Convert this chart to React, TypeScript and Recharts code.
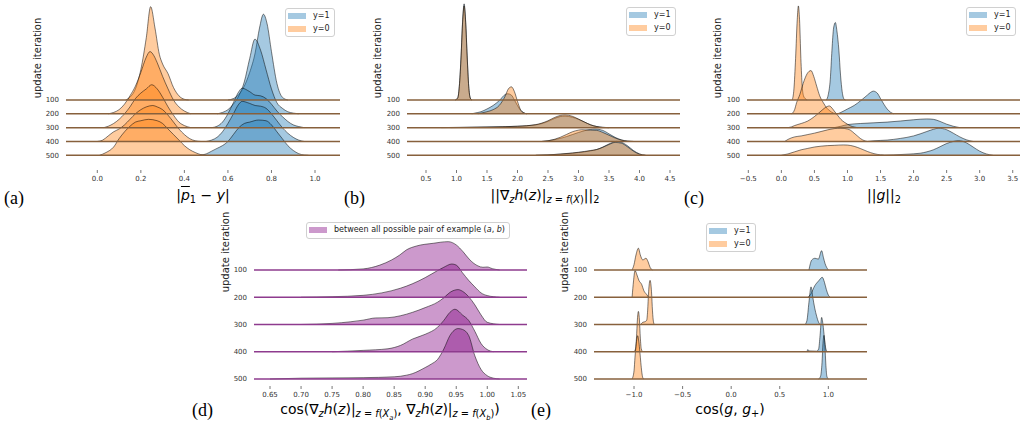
import React from 'react';
import { ComposedChart, Area, XAxis, YAxis, ReferenceLine } from 'recharts';

type Pt = [number, number];

const rowLabels = ['100', '200', '300', '400', '500'];

// ---------- panel (a): |p1 - y| ----------
const aTicks = [0.0, 0.2, 0.4, 0.6, 0.8, 1.0];
const aBlue100: Pt[] = [[0.6,0],[0.625,0.1],[0.65,0.4],[0.675,1.0],[0.7,2.0],[0.725,3.4],[0.745,5.2],[0.763,6.2],[0.78,5.5],[0.8,3.5],[0.825,1.2],[0.85,0.2],[0.875,0]];
const aBlue200: Pt[] = [[0.55,0],[0.575,0.1],[0.6,0.3],[0.625,0.7],[0.65,1.3],[0.675,2.3],[0.7,4.0],[0.724,5.4],[0.75,4.6],[0.775,3.2],[0.8,1.8],[0.825,0.8],[0.85,0.4],[0.875,0.15],[0.9,0.05],[0.925,0]];
const aBlue300: Pt[] = [[0.525,0],[0.55,0.1],[0.575,0.4],[0.6,1.0],[0.625,1.8],[0.65,2.6],[0.665,2.85],[0.7,2.6],[0.725,2.35],[0.75,2.3],[0.775,2.1],[0.8,1.7],[0.825,1.2],[0.85,0.8],[0.875,0.45],[0.9,0.2],[0.925,0.08],[0.95,0]];
const aBlue400: Pt[] = [[0.5,0],[0.525,0.1],[0.55,0.3],[0.575,0.7],[0.6,1.3],[0.625,2.0],[0.65,2.7],[0.665,2.9],[0.7,2.75],[0.725,2.6],[0.75,2.55],[0.775,2.4],[0.8,2.0],[0.825,1.5],[0.85,1.0],[0.875,0.6],[0.9,0.3],[0.925,0.1],[0.95,0]];
const aBlue500: Pt[] = [[0.47,0],[0.5,0.1],[0.525,0.3],[0.55,0.5],[0.575,0.7],[0.6,1.0],[0.625,1.5],[0.65,2.0],[0.675,2.3],[0.7,2.4],[0.74,2.55],[0.775,2.5],[0.8,2.2],[0.825,1.7],[0.85,1.2],[0.875,0.7],[0.9,0.35],[0.925,0.12],[0.95,0.02],[0.97,0]];
const aOrange100: Pt[] = [[0.13,0],[0.15,0.2],[0.175,0.8],[0.2,2.2],[0.225,4.5],[0.245,6.75],[0.265,5.2],[0.285,3.3],[0.3,2.6],[0.325,1.9],[0.35,0.9],[0.375,0.3],[0.4,0.05],[0.42,0]];
const aOrange200: Pt[] = [[0.05,0],[0.075,0.1],[0.1,0.3],[0.125,0.7],[0.15,1.3],[0.175,2.0],[0.2,3.0],[0.225,4.1],[0.242,4.5],[0.26,4.2],[0.275,3.7],[0.3,2.7],[0.325,1.8],[0.35,1.0],[0.375,0.5],[0.4,0.2],[0.43,0]];
const aOrange300: Pt[] = [[0.03,0],[0.05,0.1],[0.075,0.3],[0.1,0.6],[0.125,1.0],[0.15,1.5],[0.175,2.1],[0.2,2.5],[0.225,2.8],[0.25,3.1],[0.275,2.8],[0.3,2.2],[0.325,1.5],[0.35,0.9],[0.375,0.4],[0.4,0.15],[0.43,0]];
const aOrange400: Pt[] = [[0.0,0],[0.025,0.1],[0.05,0.4],[0.075,0.7],[0.1,0.9],[0.125,1.2],[0.15,1.6],[0.175,2.0],[0.2,2.3],[0.225,2.5],[0.255,2.6],[0.275,2.5],[0.3,2.3],[0.325,1.9],[0.35,1.4],[0.375,0.9],[0.4,0.5],[0.425,0.2],[0.45,0.05],[0.475,0]];
const aOrange500: Pt[] = [[0.01,0],[0.04,0.2],[0.075,0.6],[0.1,1.2],[0.125,1.7],[0.15,2.1],[0.175,2.4],[0.2,2.5],[0.235,2.6],[0.275,2.5],[0.3,2.3],[0.325,1.9],[0.35,1.5],[0.375,1.1],[0.4,0.7],[0.425,0.4],[0.45,0.2],[0.475,0.05],[0.5,0]];

// ---------- panel (b): ||grad h|| ----------
const bTicks = [0.5, 1.0, 1.5, 2.0, 2.5, 3.0, 3.5, 4.0, 4.5];
const bBlue100: Pt[] = [[0.98,0],[1.02,0.15],[1.05,1.2],[1.075,3.2],[1.1,5.7],[1.125,6.95],[1.15,5.7],[1.175,3.2],[1.2,1.0],[1.225,0.15],[1.25,0]];
const bBlue200: Pt[] = [[1.25,0],[1.3,0.05],[1.4,0.15],[1.5,0.35],[1.6,0.6],[1.7,0.95],[1.8,1.4],[1.84,1.45],[1.9,1.35],[1.95,1.0],[2.0,0.6],[2.05,0.25],[2.1,0.08],[2.15,0]];
const bBlue300: Pt[] = [[0.75,0],[1.0,0.02],[1.5,0.05],[2.0,0.1],[2.3,0.2],[2.5,0.45],[2.6,0.65],[2.7,0.8],[2.78,0.83],[2.9,0.75],[3.0,0.6],[3.1,0.4],[3.2,0.2],[3.3,0.08],[3.4,0.02],[3.5,0]];
const bBlue400: Pt[] = [[2.4,0],[2.5,0.05],[2.6,0.12],[2.7,0.22],[2.8,0.35],[2.9,0.5],[3.0,0.65],[3.1,0.78],[3.2,0.87],[3.27,0.9],[3.4,0.8],[3.5,0.55],[3.6,0.3],[3.7,0.12],[3.8,0.03],[3.9,0]];
const bBlue500: Pt[] = [[2.3,0],[2.5,0.03],[2.7,0.08],[2.9,0.15],[3.0,0.2],[3.1,0.25],[3.2,0.32],[3.3,0.42],[3.4,0.6],[3.5,0.82],[3.62,1.0],[3.7,0.95],[3.8,0.7],[3.9,0.35],[4.0,0.1],[4.1,0]];
const bOrange100: Pt[] = [[0.98,0],[1.02,0.15],[1.05,1.2],[1.075,3.1],[1.1,5.6],[1.125,6.8],[1.15,5.6],[1.175,3.1],[1.2,1.0],[1.225,0.15],[1.25,0]];
const bOrange200: Pt[] = [[1.35,0],[1.4,0.05],[1.5,0.15],[1.6,0.3],[1.7,0.6],[1.8,1.3],[1.85,1.8],[1.9,1.95],[1.95,1.6],[2.0,0.9],[2.05,0.3],[2.1,0.08],[2.15,0]];
const bOrange300: Pt[] = [[0.9,0],[1.2,0.02],[1.6,0.05],[2.0,0.1],[2.3,0.22],[2.5,0.5],[2.6,0.72],[2.7,0.88],[2.78,0.92],[2.9,0.82],[3.0,0.62],[3.1,0.4],[3.2,0.2],[3.3,0.08],[3.4,0.02],[3.5,0]];
const bOrange400: Pt[] = [[2.4,0],[2.5,0.05],[2.6,0.15],[2.7,0.3],[2.8,0.5],[2.9,0.7],[3.0,0.82],[3.05,0.85],[3.2,0.82],[3.3,0.8],[3.4,0.65],[3.5,0.45],[3.6,0.25],[3.7,0.1],[3.8,0.02],[3.9,0]];
const bOrange500: Pt[] = [[2.3,0],[2.5,0.03],[2.7,0.09],[2.9,0.17],[3.0,0.22],[3.1,0.28],[3.2,0.35],[3.3,0.42],[3.4,0.58],[3.5,0.78],[3.6,0.93],[3.7,0.88],[3.8,0.62],[3.9,0.3],[4.0,0.08],[4.1,0]];

// ---------- panel (c): ||g|| ----------
const cTicks = [-0.5, 0.0, 0.5, 1.0, 1.5, 2.0, 2.5, 3.0, 3.5];
const cBlue100: Pt[] = [[0.68,0],[0.71,0.4],[0.74,1.5],[0.765,3.6],[0.79,5.2],[0.817,5.6],[0.84,5.0],[0.87,3.6],[0.895,1.8],[0.92,0.6],[0.95,0.05],[0.97,0]];
const cBlue200: Pt[] = [[0.85,0],[0.9,0.1],[1.0,0.35],[1.1,0.6],[1.2,0.95],[1.3,1.35],[1.35,1.55],[1.39,1.64],[1.45,1.5],[1.5,1.1],[1.55,0.7],[1.6,0.35],[1.65,0.12],[1.7,0]];
const cBlue300: Pt[] = [[0.8,0],[0.9,0.1],[1.0,0.22],[1.2,0.3],[1.4,0.35],[1.6,0.4],[1.8,0.48],[2.0,0.57],[2.2,0.63],[2.3,0.6],[2.4,0.45],[2.5,0.25],[2.6,0.1],[2.7,0]];
const cBlue400: Pt[] = [[1.3,0],[1.4,0.05],[1.6,0.1],[1.8,0.22],[2.0,0.4],[2.1,0.55],[2.2,0.72],[2.3,0.88],[2.38,0.96],[2.5,0.85],[2.6,0.6],[2.7,0.33],[2.8,0.12],[2.9,0]];
const cBlue500: Pt[] = [[1.5,0],[1.7,0.03],[1.9,0.08],[2.1,0.15],[2.2,0.25],[2.3,0.4],[2.4,0.62],[2.5,0.85],[2.6,1.0],[2.68,1.06],[2.8,0.9],[2.9,0.6],[3.0,0.3],[3.1,0.1],[3.2,0]];
const cOrange100: Pt[] = [[0.165,0],[0.19,0.8],[0.215,3.0],[0.24,5.8],[0.257,6.8],[0.275,5.8],[0.295,3.0],[0.315,1.0],[0.335,0.3],[0.36,0.1],[0.39,0]];
const cOrange200: Pt[] = [[0.155,0],[0.2,0.3],[0.23,0.8],[0.28,1.4],[0.33,2.2],[0.39,2.9],[0.448,3.13],[0.49,2.7],[0.534,2.0],[0.58,1.3],[0.635,0.8],[0.69,0.4],[0.736,0.2],[0.79,0.05],[0.84,0]];
const cOrange300: Pt[] = [[0.1,0],[0.15,0.05],[0.2,0.15],[0.3,0.3],[0.4,0.48],[0.5,0.8],[0.6,1.2],[0.65,1.4],[0.726,1.57],[0.75,1.5],[0.8,1.2],[0.85,0.9],[0.9,0.6],[0.95,0.4],[1.0,0.25],[1.05,0.12],[1.1,0.05],[1.15,0]];
const cOrange400: Pt[] = [[0.05,0],[0.1,0.15],[0.2,0.33],[0.3,0.4],[0.4,0.5],[0.5,0.6],[0.6,0.72],[0.7,0.84],[0.8,0.93],[0.9,0.96],[1.0,0.9],[1.05,0.8],[1.1,0.6],[1.15,0.4],[1.2,0.2],[1.25,0.07],[1.3,0]];
const cOrange500: Pt[] = [[0.0,0],[0.1,0.1],[0.2,0.25],[0.3,0.4],[0.4,0.5],[0.5,0.6],[0.6,0.66],[0.7,0.7],[0.8,0.72],[0.94,0.75],[1.0,0.74],[1.1,0.65],[1.2,0.48],[1.3,0.28],[1.4,0.12],[1.5,0.03],[1.55,0]];

// ---------- panel (d): cos between pairs ----------
const dTicks = [0.65, 0.7, 0.75, 0.8, 0.85, 0.9, 0.95, 1.0, 1.05];
const dPurple100: Pt[] = [[0.76,0],[0.8,0.04],[0.827,0.18],[0.846,0.37],[0.859,0.55],[0.87,0.74],[0.886,0.88],[0.913,0.98],[0.937,1.04],[0.95,0.92],[0.961,0.67],[0.972,0.37],[0.985,0.15],[0.993,0.1],[1.0,0.11],[1.008,0.05],[1.02,0]];
const dPurple200: Pt[] = [[0.7,0],[0.75,0.02],[0.8,0.07],[0.83,0.16],[0.86,0.33],[0.88,0.5],[0.9,0.72],[0.92,0.98],[0.93,1.1],[0.943,1.22],[0.95,1.18],[0.96,0.9],[0.97,0.62],[0.98,0.38],[0.99,0.16],[1.0,0.06],[1.02,0]];
const dPurple300: Pt[] = [[0.7,0],[0.75,0.04],[0.78,0.1],[0.8,0.16],[0.82,0.24],[0.84,0.25],[0.86,0.32],[0.88,0.45],[0.9,0.62],[0.92,0.82],[0.93,0.98],[0.94,1.18],[0.953,1.28],[0.96,1.22],[0.97,1.02],[0.98,0.72],[0.99,0.35],[1.0,0.08],[1.02,0]];
const dPurple400: Pt[] = [[0.75,0],[0.8,0.05],[0.84,0.11],[0.86,0.23],[0.88,0.47],[0.9,0.64],[0.92,0.9],[0.93,1.15],[0.94,1.45],[0.948,1.56],[0.96,1.35],[0.97,1.15],[0.98,0.75],[0.99,0.3],[1.0,0.08],[1.01,0]];
const dPurple500: Pt[] = [[0.65,0],[0.7,0.03],[0.75,0.04],[0.8,0.05],[0.85,0.08],[0.87,0.14],[0.88,0.2],[0.89,0.3],[0.9,0.42],[0.91,0.55],[0.92,0.72],[0.93,1.1],[0.94,1.6],[0.953,1.85],[0.96,1.82],[0.97,1.6],[0.98,0.85],[0.99,0.35],[1.0,0.12],[1.01,0.03],[1.02,0]];

// ---------- panel (e): cos(g, g+) ----------
const eTicks = [-1.0, -0.5, 0.0, 0.5, 1.0];
const eBlue100: Pt[] = [[0.8,0],[0.83,0.37],[0.863,0.43],[0.897,0.4],[0.931,0.71],[0.95,0.45],[0.966,0.24],[1.0,0]];
const eBlue200: Pt[] = [[0.79,0],[0.82,0.12],[0.86,0.42],[0.9,0.6],[0.938,0.73],[0.96,0.55],[0.98,0.28],[1.0,0.08],[1.02,0]];
const eBlue300: Pt[] = [[0.76,0],[0.78,0.15],[0.8,0.8],[0.822,1.38],[0.84,1.0],[0.86,0.6],[0.88,0.3],[0.9,0.08],[0.915,0]];
const eBlue400: Pt[] = [[0.78,0],[0.79,0.08],[0.8,0.03],[0.88,0.02],[0.9,0.1],[0.915,0.6],[0.931,1.26],[0.945,1.0],[0.96,0.5],[0.975,0.1],[0.99,0]];
const eBlue500: Pt[] = [[0.9,0],[0.92,0.1],[0.935,0.6],[0.945,1.3],[0.955,1.6],[0.965,1.2],[0.975,0.5],[0.985,0.1],[1.0,0]];
const eOrange100: Pt[] = [[-1.02,0],[-1.0,0.2],[-0.98,0.55],[-0.955,0.8],[-0.935,0.55],[-0.91,0.37],[-0.877,0.43],[-0.855,0.3],[-0.835,0.1],[-0.81,0]];
const eOrange200: Pt[] = [[-1.02,0],[-1.005,0.6],[-0.99,0.98],[-0.97,0.82],[-0.95,0.62],[-0.92,0.46],[-0.9,0.25],[-0.87,0.1],[-0.85,0]];
const eOrange300: Pt[] = [[-0.93,0],[-0.91,0.08],[-0.89,0.1],[-0.87,0.15],[-0.86,0.5],[-0.85,1.2],[-0.835,1.62],[-0.82,1.2],[-0.81,0.5],[-0.8,0.1],[-0.79,0]];
const eOrange400: Pt[] = [[-1.0,0],[-0.985,0.1],[-0.975,0.5],[-0.965,1.2],[-0.955,1.48],[-0.945,1.2],[-0.935,0.5],[-0.925,0.1],[-0.91,0]];
const eOrange500: Pt[] = [[-1.02,0],[-1.0,0.3],[-0.99,0.8],[-0.98,1.2],[-0.97,1.5],[-0.962,1.59],[-0.95,1.35],[-0.94,1.0],[-0.93,0.6],[-0.92,0.25],[-0.91,0.05],[-0.9,0]];

const BLUE = '#1f77b4';
const ORANGE = '#ff7f0e';
const PURPLE = '#800080';
const BROWN = '#87603c';
const PLINE = '#8e3b8e';

type Series = { pts: Pt[]; row: number; color: string };
type PanelCfg = {
  left: number; top: number; width: number; height: number; plotH: number; yW: number;
  xDomain: [number, number]; xTicks: number[]; dec: number;
  yDomain: [number, number]; series: Series[]; lineColor: string;
};

const twoSeries = (blue: Pt[][], orange: Pt[][]): Series[] => {
  const out: Series[] = [];
  for (let r = 0; r < 5; r++) {
    out.push({ pts: blue[r], row: r, color: BLUE });
    out.push({ pts: orange[r], row: r, color: ORANGE });
  }
  return out;
};

const TOP_Y: [number, number] = [-0.063, 12.229];
const BOT_Y: [number, number] = [0.743, 7.128];

const panels: PanelCfg[] = [
  { left: 0, top: 0, width: 340, height: 190, plotH: 170, yW: 66, xDomain: [-0.1438, 1.1148], xTicks: aTicks, dec: 1, yDomain: TOP_Y,
    series: twoSeries([aBlue100, aBlue200, aBlue300, aBlue400, aBlue500], [aOrange100, aOrange200, aOrange300, aOrange400, aOrange500]), lineColor: BROWN },
  { left: 341, top: 0, width: 339, height: 190, plotH: 170, yW: 66, xDomain: [0.1885, 4.664], xTicks: bTicks, dec: 1, yDomain: TOP_Y,
    series: twoSeries([bBlue100, bBlue200, bBlue300, bBlue400, bBlue500], [bOrange100, bOrange200, bOrange300, bOrange400, bOrange500]), lineColor: BROWN },
  { left: 681, top: 0, width: 339, height: 190, plotH: 170, yW: 66, xDomain: [-0.52, 3.61], xTicks: cTicks, dec: 1, yDomain: TOP_Y,
    series: twoSeries([cBlue100, cBlue200, cBlue300, cBlue400, cBlue500], [cOrange100, cOrange200, cOrange300, cOrange400, cOrange500]), lineColor: BROWN },
  { left: 220, top: 212, width: 307, height: 194, plotH: 174, yW: 34, xDomain: [0.6242, 1.064], xTicks: dTicks, dec: 2, yDomain: BOT_Y,
    series: [dPurple100, dPurple200, dPurple300, dPurple400, dPurple500].map((p, i) => ({ pts: p, row: i, color: PURPLE })), lineColor: PLINE },
  { left: 560, top: 212, width: 307, height: 194, plotH: 174, yW: 34, xDomain: [-1.412, 1.398], xTicks: eTicks, dec: 1, yDomain: BOT_Y,
    series: twoSeries([eBlue100, eBlue200, eBlue300, eBlue400, eBlue500], [eOrange100, eOrange200, eOrange300, eOrange400, eOrange500]), lineColor: BROWN },
];

function buildRows(series: Series[]) {
  const map = new Map<string, any>();
  series.forEach((s, i) => {
    const base = 5 - s.row;
    s.pts.forEach(([x, h]) => {
      const k = x.toFixed(5);
      let r = map.get(k);
      if (!r) { r = { x }; map.set(k, r); }
      r['s' + i] = base + h;
    });
  });
  return Array.from(map.values()).sort((a, b) => a.x - b.x);
}

const fmt = (v: number, d: number) => v.toFixed(d).replace('-', '\u2212');
const FONT = '"DejaVu Sans", sans-serif';

function Panel({ cfg }: { cfg: PanelCfg }) {
  const rows = buildRows(cfg.series);
  return (
    <div style={{ position: 'absolute', left: cfg.left, top: cfg.top }}>
      <ComposedChart width={cfg.width} height={cfg.height} data={rows} margin={{ top: 0, right: 0, bottom: 0, left: 0 }}>
        <XAxis dataKey="x" type="number" domain={cfg.xDomain} ticks={cfg.xTicks} allowDataOverflow interval={0}
          axisLine={false} tickSize={3} tickMargin={3} height={cfg.height - cfg.plotH}
          tickLine={{ stroke: '#555', strokeWidth: 0.8 }}
          tick={{ fontSize: 7, fill: '#333', fontFamily: FONT }}
          tickFormatter={(v: number) => fmt(v, cfg.dec)} />
        <YAxis type="number" domain={cfg.yDomain} ticks={[5, 4, 3, 2, 1]} allowDataOverflow interval={0}
          axisLine={false} tickLine={false} tickSize={0} tickMargin={7} width={cfg.yW}
          tick={{ fontSize: 7, fill: '#333', fontFamily: FONT }}
          tickFormatter={(v: number) => rowLabels[5 - v]} />
        {cfg.series.map((s, i) => (
          <Area key={i} type="monotone" dataKey={'s' + i} baseValue={5 - s.row} connectNulls
            stroke="#000" strokeOpacity={0.5} strokeWidth={1} fill={s.color} fillOpacity={0.4}
            isAnimationActive={false} dot={false} activeDot={false} />
        ))}
        {[5, 4, 3, 2, 1].map((v) => (
          <ReferenceLine key={v} y={v} stroke={cfg.lineColor} strokeWidth={1.5} />
        ))}
      </ComposedChart>
    </div>
  );
}

const Sub = ({ children }: { children: React.ReactNode }) => (
  <span style={{ fontSize: '0.7em', position: 'relative', top: '0.35em' }}>{children}</span>
);
const I = ({ children }: { children: React.ReactNode }) => <span style={{ fontStyle: 'italic' }}>{children}</span>;

function MathLabel({ cx, cy, children }: { cx: number; cy: number; children: React.ReactNode }) {
  return (
    <div style={{ position: 'absolute', left: cx, top: cy, transform: 'translate(-50%, -50%)', whiteSpace: 'nowrap',
      fontFamily: FONT, fontSize: 14, color: '#000', lineHeight: 1 }}>{children}</div>
  );
}

function YLabel({ cx, cy }: { cx: number; cy: number }) {
  return (
    <div style={{ position: 'absolute', left: cx, top: cy, transform: 'translate(-50%, -50%) rotate(-90deg)', whiteSpace: 'nowrap',
      fontFamily: FONT, fontSize: 10, color: '#222', lineHeight: 1 }}>update iteration</div>
  );
}

function PanelTag({ x, cy, t }: { x: number; cy: number; t: string }) {
  return (
    <div style={{ position: 'absolute', left: x, top: cy, transform: 'translateY(-50%)', whiteSpace: 'nowrap',
      fontFamily: '"Liberation Serif", serif', fontSize: 18, color: '#000', lineHeight: 1 }}>{t}</div>
  );
}

type LegendItem = { color: string; label: React.ReactNode };
function LegendBox({ left, top, items }: { left: number; top: number; items: LegendItem[] }) {
  return (
    <div style={{ position: 'absolute', left, top, background: 'rgba(255,255,255,0.8)', border: '1px solid #d0d0d0',
      borderRadius: 3, padding: '1px 4px 1px 2px', fontFamily: FONT, fontSize: 8, color: '#222', lineHeight: 1 }}>
      {items.map((it, i) => (
        <div key={i} style={{ display: 'flex', alignItems: 'center', height: 12.5, whiteSpace: 'nowrap' }}>
          <span style={{ display: 'inline-block', width: 18, height: 6, background: it.color, opacity: 0.4 }} />
          <span style={{ marginLeft: 7 }}>{it.label}</span>
        </div>
      ))}
    </div>
  );
}

const yItems: LegendItem[] = [
  { color: BLUE, label: 'y=1' },
  { color: ORANGE, label: 'y=0' },
];

export default function App() {
  return (
    <div style={{ position: 'absolute', left: 0, top: 0, width: 1021, height: 421, background: '#fff', overflow: 'hidden' }}>
      {panels.map((p, i) => <Panel key={i} cfg={p} />)}

      <YLabel cx={38} cy={58} />
      <YLabel cx={378} cy={58} />
      <YLabel cx={718} cy={58} />
      <YLabel cx={226} cy={252} />
      <YLabel cx={565} cy={252} />

      <LegendBox left={285} top={8} items={yItems} />
      <LegendBox left={626} top={7} items={yItems} />
      <LegendBox left={966} top={7} items={yItems} />
      <LegendBox left={706} top={223} items={yItems} />
      <LegendBox left={306} top={222} items={[{ color: PURPLE, label: <span>between all possible pair of example (<I>a</I>, <I>b</I>)</span> }]} />

      <MathLabel cx={203} cy={195}>|<span style={{ fontStyle: 'italic', textDecoration: 'overline' }}>p</span><Sub>1</Sub> − <I>y</I>|</MathLabel>
      <MathLabel cx={545} cy={195}>||∇<Sub><I>z</I></Sub><I>h</I>(<I>z</I>)|<Sub><I>z</I> = <I>f</I>(<I>X</I>)</Sub>||<Sub>2</Sub></MathLabel>
      <MathLabel cx={884} cy={195}>||<I>g</I>||<Sub>2</Sub></MathLabel>
      <MathLabel cx={390} cy={409}>cos(∇<Sub><I>z</I></Sub><I>h</I>(<I>z</I>)|<Sub><I>z</I> = <I>f</I>(<I>X<Sub><I>a</I></Sub></I>)</Sub>, ∇<Sub><I>z</I></Sub><I>h</I>(<I>z</I>)|<Sub><I>z</I> = <I>f</I>(<I>X<Sub><I>b</I></Sub></I>)</Sub>)</MathLabel>
      <MathLabel cx={730} cy={409}>cos(<I>g</I>, <I>g</I><Sub>+</Sub>)</MathLabel>

      <PanelTag x={4} cy={198} t="(a)" />
      <PanelTag x={344} cy={198} t="(b)" />
      <PanelTag x={684} cy={198} t="(c)" />
      <PanelTag x={192} cy={410} t="(d)" />
      <PanelTag x={531} cy={410} t="(e)" />
    </div>
  );
}
